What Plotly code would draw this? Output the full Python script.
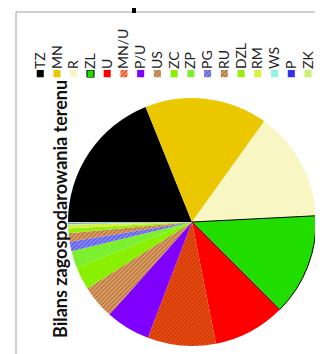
import plotly.graph_objects as go

categories = ["TZ", "MN", "R", "ZL", "U", "MN/U", "P/U", "US", "ZC", "ZP",
              "PG", "RU", "DZL", "RM", "WS", "P", "ZK"]
values = [18.9, 16.0, 14.3, 13.3, 9.4, 8.9, 5.8, 4.4, 3.0, 2.2,
          1.25, 1.1, 0.6, 0.5, 0.15, 0.1, 0.1]
colors = ["#000000", "#EBC700", "#F8F7C4", "#22DD00", "#FF0000", "#F04A10",
          "#7F00FF", "#E8A060", "#88F000", "#7CF030", "#8A8AFF", "#E8A060",
          "#96EE10", "#D8F040", "#8FF5E0", "#3030F0", "#C8F070"]
hatch = ["", "", "", "", "", "/", "", "/", "", "", "/", "/", "", "", "", "", ""]
hatch_fg = ["#000", "#000", "#000", "#000", "#000", "#9A2A00", "#000", "#6A4A2A",
            "#000", "#000", "#2828C0", "#6A4A2A", "#000", "#000", "#000", "#000", "#000"]
outline_w = [0, 0, 0, 1, 0, 0, 0, 0, 0, 0, 0, 0, 0, 0, 0, 0, 0]
title_text = "Bilans zagospodarowania terenu"
legend_level = [1] * len(categories)

W, H = 323, 354

def px_x(v):
    return v / W

def px_y(v):
    return 1 - v / H

fig = go.Figure()

fig.add_trace(go.Pie(
    labels=categories, values=values, sort=False, direction="clockwise",
    rotation=270, textinfo="none", showlegend=False,
    marker=dict(colors=colors,
                line=dict(color="#000000", width=outline_w),
                pattern=dict(shape=hatch, fgcolor=hatch_fg, fillmode="overlay",
                             size=3, solidity=0.45)),
    domain=dict(x=[px_x(60), px_x(308)], y=[px_y(338), px_y(90)]),
))

fig.add_trace(go.Bar(
    x=categories, y=legend_level, width=0.42, showlegend=False,
    marker=dict(color=colors,
                line=dict(color="#000000", width=outline_w),
                pattern=dict(shape=hatch, fgcolor=hatch_fg, fillmode="overlay",
                             size=3, solidity=0.45)),
    hoverinfo="x",
))

fig.update_layout(
    width=W, height=H, margin=dict(l=0, r=0, t=0, b=0),
    paper_bgcolor="white", plot_bgcolor="rgba(0,0,0,0)",
    font=dict(family="Lato, Carlito, Arial", color="#222222"),
    xaxis=dict(type="category", categoryorder="array", categoryarray=categories,
               tickmode="array", tickvals=categories, ticktext=categories,
               domain=[px_x(23.9), px_x(308.4)], side="top", tickangle=-90,
               showgrid=False, zeroline=False, showline=False, ticks="",
               tickfont=dict(size=14, color="#222222"), anchor="y",
               range=[-0.5, len(categories) - 0.5]),
    yaxis=dict(domain=[px_y(69.5), px_y(62)], range=[0, 1], visible=False,
               fixedrange=True),
    annotations=[dict(text="<b>" + title_text + "</b>", textangle=-90,
                      x=px_x(39), y=px_y(201), xref="paper", yref="paper",
                      showarrow=False, font=dict(size=18, color="#111111"))],
    shapes=[
        dict(type="line", xref="paper", yref="paper", x0=px_x(8), x1=1.0,
             y0=px_y(4), y1=px_y(4), line=dict(color="#98A4A4", width=1)),
        dict(type="line", xref="paper", yref="paper", x0=px_x(8), x1=px_x(8),
             y0=px_y(4), y1=0, line=dict(color="#98A4A4", width=1)),
        dict(type="rect", xref="paper", yref="paper", x0=px_x(124), x1=px_x(128),
             y0=px_y(5), y1=1.0, fillcolor="#000000", line=dict(width=0)),
    ],
)

fig.write_html("out.html")
